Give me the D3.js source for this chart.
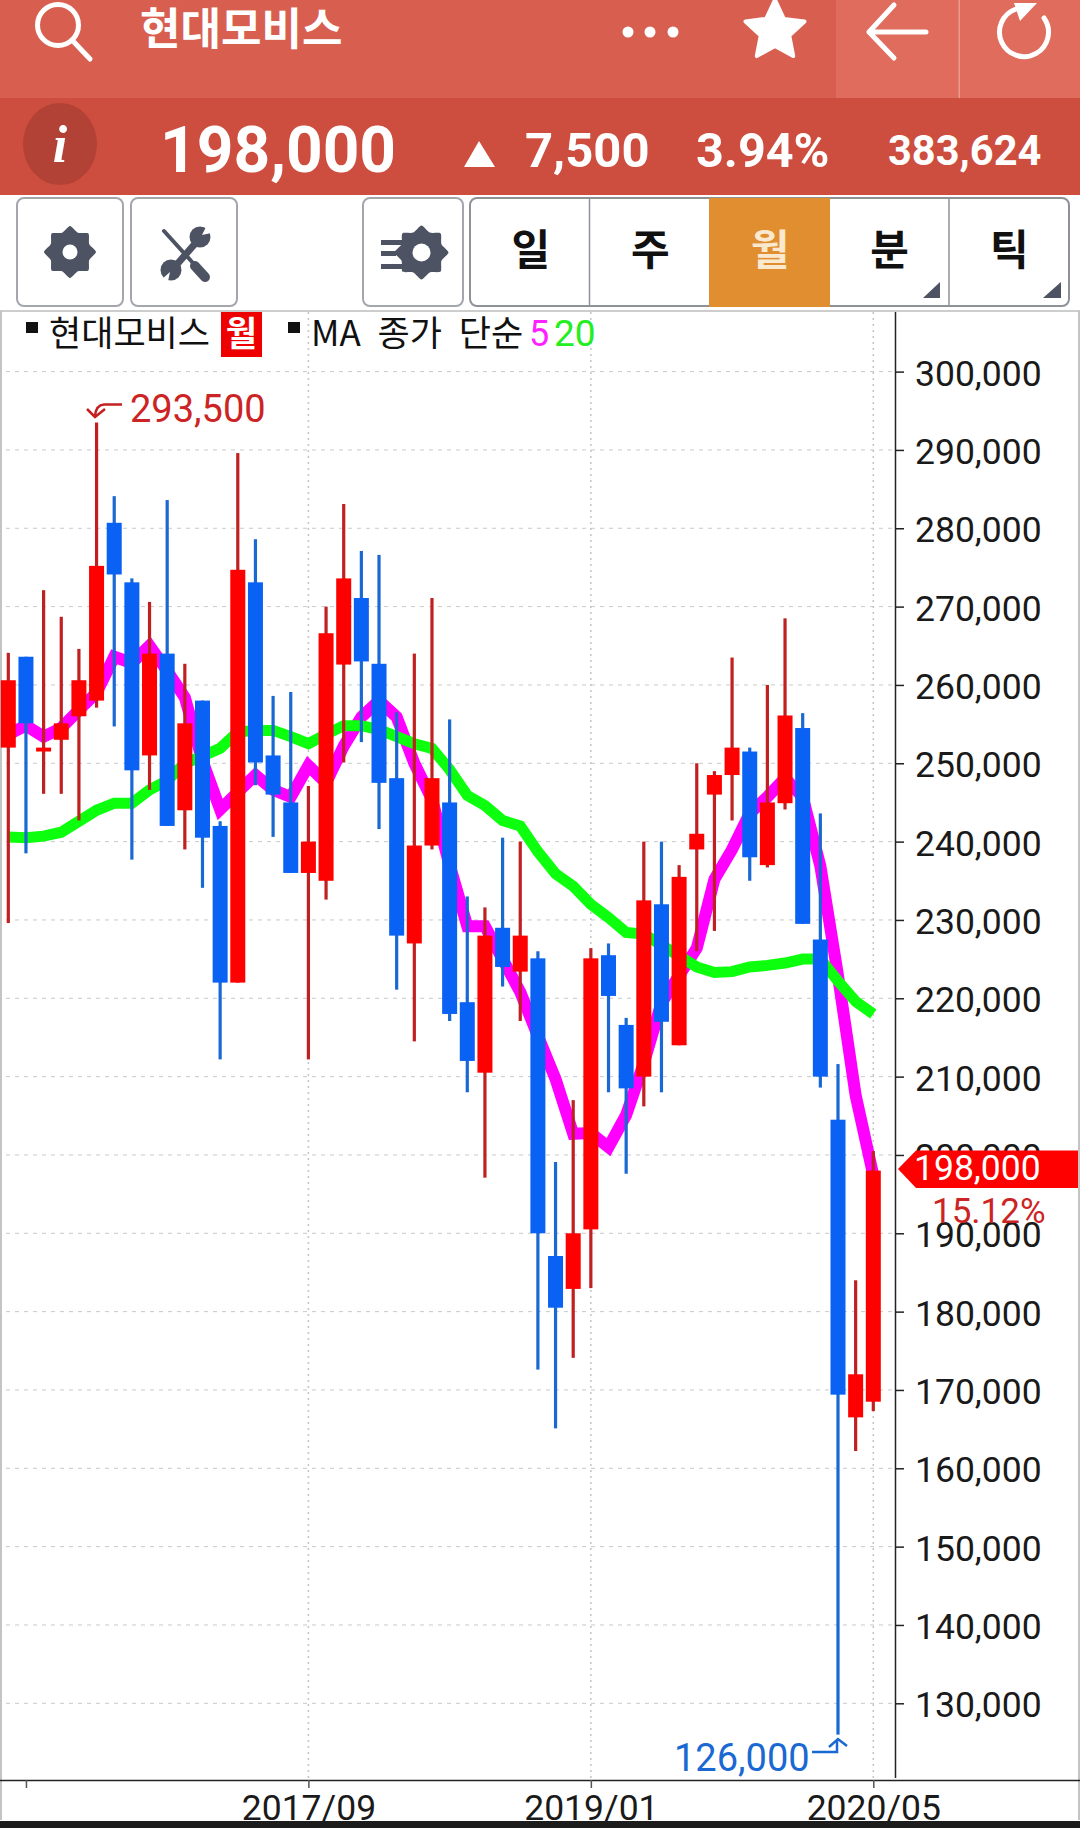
<!DOCTYPE html>
<html>
<head>
<meta charset="utf-8">
<script src="https://cdn.jsdelivr.net/npm/d3@7"></script>
<style>
  html, body { margin: 0; padding: 0; background: #fff; }
  svg { display: block; }
  text { font-family: "Noto Sans CJK KR", "Noto Sans", sans-serif; }
  .num { font-family: Roboto, "Noto Sans", sans-serif; }
</style>
</head>
<body>
<div id="chart"></div>
<script>
// monthly candles (thousand won)
const opens = [252,263.6,251.5,253,256,258,280.7,273.1,251,264,244,258,242,222,273.1,251,245,236,235,262.6,271.1,262.7,248.1,227,239.5,245,219.5,210.5,229,223.4,225.1,187.1,182.9,190.5,225.5,216.6,210,232,214,239,246,248.5,251.5,237,244.9,254.5,227.5,204.5,166.5,168.5];
const closes = [260.6,255.1,252,255.1,260.6,275.2,274.1,249.1,264,242,255.1,240.5,222,274.7,250.1,246,236,240,266.6,273.6,263,247.5,228,239.5,248.1,218,212,228,224,228,190,180.5,190,225.1,220.3,208.5,232.5,217,235.5,241,248.5,252,238,245,256.1,229.5,210,169.4,172,198];
const highs = [264.1,263.6,272.1,268.7,264.6,293.5,284.1,273.6,270.6,283.6,262.7,258,242.6,289.6,278.6,258.6,259.1,247.1,270,283.1,277.1,276.6,256.5,264,271.1,255.6,233,231.6,240.5,240,226,199.1,207,226.4,227,217.5,240,240,237,250,249,263.5,252,260,268.5,256.4,243.6,211.6,184,200.5];
const lows = [229.6,238.5,246.1,246.1,242.7,257.1,254.7,237.7,246.6,242,239,234.1,212.2,222,247.2,240.6,236,212.2,232.6,250.1,252.7,241.6,221.1,214.5,239,217.1,208,197.1,221.5,217.1,172.6,165.1,174.1,183,208,197.6,206.2,208,214,226,228.6,242.7,235,236.7,244.1,229.5,208.6,126,162.2,167.3];
const ma5 = [253.7,254.8,253.4,254.5,256.8,259,263.6,262.8,265,261.8,258.4,250.3,244.1,246.3,248.5,246.6,245.7,249.7,247.5,252.2,255.9,258,255.9,250,245.4,237,229.2,229.2,225,220.8,215.2,209.7,202.7,202.8,201,205.1,211.7,219.4,222.9,226.4,235.2,239,243.6,245.7,248.1,245.7,236.9,222.9,207.6,197.4];
const ma20 = [240.6,240.5,240.7,241.2,242.6,244,244.9,244.9,246.6,247.8,250,250.9,251.9,254,254.2,254.2,253.4,252.5,253.7,254.8,254.8,254.3,253.4,252.5,251.9,249.2,245.9,244.6,242.7,242,238.7,235.9,234.3,232,230.3,228.4,228.2,226.8,225.4,224,223.3,223.4,224,224.2,224.5,225,225,222.2,219.6,218];
const yTicks = [300,290,280,270,260,250,240,230,220,210,200,190,180,170,160,150,140,130];
const xTickIdx = [1,17,33,49];
const xTickLabels = ['','2017/09','2019/01','2020/05'];
const tabs = ['일','주','월','분','틱'];

const width = 1080;
const height = 1828;
const axisX = 895;
const bottomY = 1780;

const svg = d3.select('#chart').append('svg')
  .attr('width', width)
  .attr('height', height);

const x = d3.scaleLinear().domain([0, 49]).range([8.3, 873.3]);
const y = d3.scaleLinear().domain([130, 300]).range([1703.3, 371.6]);

// ---- header
const header = svg.append('g');
header.append('rect').attr('width', width).attr('height', 98).attr('fill', '#d85f50');
header.append('rect').attr('x', 836).attr('width', 244).attr('height', 98).attr('fill', '#df6c5d');
header.append('rect').attr('x', 958.5).attr('width', 1.5).attr('height', 98).attr('fill', '#eb9a8f');
header.append('rect').attr('y', 98).attr('width', width).attr('height', 97).attr('fill', '#cd4d3e');

// search icon
header.append('circle').attr('cx', 58).attr('cy', 25).attr('r', 20.5)
  .attr('fill', 'none').attr('stroke', '#fff').attr('stroke-width', 5);
header.append('line').attr('x1', 72).attr('y1', 40).attr('x2', 90).attr('y2', 59)
  .attr('stroke', '#fff').attr('stroke-width', 5).attr('stroke-linecap', 'round');
header.append('text').text('현대모비스')
  .attr('x', 140).attr('y', 45).attr('fill', '#fff')
  .attr('font-size', 44).attr('font-weight', 700);

// three dots
[628, 650, 673].forEach((cx) => {
  header.append('circle').attr('cx', cx).attr('cy', 32).attr('r', 5.5).attr('fill', '#fff');
});
// star
const starPts = d3.range(10).map((i) => {
  const r = i % 2 === 0 ? 31 : 15;
  const a = -Math.PI / 2 + i * Math.PI / 5;
  return [775 + r * Math.cos(a), 31 + r * Math.sin(a)];
});
header.append('path').attr('d', d3.line().curve(d3.curveLinearClosed)(starPts))
  .attr('fill', '#fff').attr('stroke', '#fff').attr('stroke-width', 4).attr('stroke-linejoin', 'round');
// back arrow
header.append('path').attr('d', 'M894 5L869 32L894 58M869 32H926')
  .attr('fill', 'none').attr('stroke', '#fff').attr('stroke-width', 5).attr('stroke-linecap', 'round').attr('stroke-linejoin', 'round');
// refresh
header.append('path').attr('d', 'M1044 18A24.5 24.5 0 1 1 1016 9')
  .attr('fill', 'none').attr('stroke', '#fff').attr('stroke-width', 5).attr('stroke-linecap', 'round');
header.append('path').attr('d', 'M1014 3H1037L1020 21Z').attr('fill', '#fff');

// price bar
header.append('ellipse').attr('cx', 60).attr('cy', 144).attr('rx', 37).attr('ry', 41).attr('fill', '#b34236');
header.append('text').text('i').attr('x', 60).attr('y', 162).attr('text-anchor', 'middle')
  .attr('fill', '#fff').attr('font-size', 52).attr('font-weight', 700).attr('font-style', 'italic')
  .style('font-family', '"Liberation Serif", serif');
const priceTexts = [
  { t: '198,000', x: 160, y: 172, s: 64 },
  { t: '7,500', x: 525, y: 167, s: 49 },
  { t: '3.94%', x: 696, y: 167, s: 48.5 },
  { t: '383,624', x: 888, y: 165, s: 41.6 }
];
priceTexts.forEach((d) => {
  header.append('text').text(d.t).attr('class', 'num').attr('x', d.x).attr('y', d.y)
    .attr('fill', '#fff').attr('font-size', d.s).attr('font-weight', 700);
});
header.append('path').attr('d', 'M479 141L495 167H464Z').attr('fill', '#fff');

// ---- toolbar
const bar = svg.append('g');
function button(x0, w) {
  bar.append('rect').attr('x', x0).attr('y', 198).attr('width', w).attr('height', 108)
    .attr('rx', 7).attr('fill', '#fff').attr('stroke', '#a3a7ad').attr('stroke-width', 2);
}
button(17, 106);
button(131, 106);
button(363, 100);

function gear(cx, cy, r, hole) {
  const pts = d3.range(16).map((i) => {
    const a = i * Math.PI / 8;
    const rr = i % 2 === 0 ? r : r * 0.8;
    return [cx + rr * Math.cos(a), cy + rr * Math.sin(a)];
  });
  bar.append('path').attr('d', d3.line().curve(d3.curveCardinalClosed.tension(0.3))(pts)).attr('fill', '#4d5363');
  bar.append('circle').attr('cx', cx).attr('cy', cy).attr('r', hole).attr('fill', '#fff');
}
gear(70, 252, 26, 7.5);
gear(421.5, 252.5, 27, 9);
[[240, 21], [251, 15], [264, 21]].forEach((d) => {
  bar.append('rect').attr('x', 381).attr('y', d[0]).attr('width', d[1]).attr('height', 5).attr('fill', '#4d5363');
});
// tools icon
bar.append('path').attr('d', 'M164 231L193 263').attr('stroke', '#4d5363').attr('stroke-width', 4).attr('stroke-linecap', 'round');
bar.append('path').attr('d', 'M195 266L205 277').attr('stroke', '#4d5363').attr('stroke-width', 10).attr('stroke-linecap', 'round');
bar.append('path').attr('d', 'M172 270L200 238').attr('stroke', '#4d5363').attr('stroke-width', 7);
bar.append('circle').attr('cx', 200).attr('cy', 237).attr('r', 10.5).attr('fill', '#4d5363');
bar.append('circle').attr('cx', 171).attr('cy', 270).attr('r', 10.5).attr('fill', '#4d5363');
bar.append('path').attr('d', 'M202 235L208 223L216 232Z').attr('fill', '#fff');
bar.append('path').attr('d', 'M170 272L161 280L167 286Z').attr('fill', '#fff');

// period tabs
bar.append('rect').attr('x', 470).attr('y', 198).attr('width', 599).attr('height', 108)
  .attr('rx', 7).attr('fill', '#fff').attr('stroke', '#8e9298').attr('stroke-width', 2);
bar.append('rect').attr('x', 709).attr('y', 198).attr('width', 121).attr('height', 109).attr('fill', '#e08e30');
[589.5, 949].forEach((dx) => {
  bar.append('line').attr('x1', dx).attr('x2', dx).attr('y1', 198).attr('y2', 306).attr('stroke', '#8e9298').attr('stroke-width', 1.5);
});
const tabX = d3.scaleBand().domain(tabs).range([471, 1069]);
bar.selectAll('.tab').data(tabs).join('text')
  .attr('class', 'tab')
  .attr('x', (d) => tabX(d) + tabX.bandwidth() / 2)
  .attr('y', 265)
  .attr('text-anchor', 'middle')
  .attr('font-size', 42)
  .attr('font-weight', 700)
  .attr('fill', (d) => (d === '월' ? '#fbe9cf' : '#111'))
  .text((d) => d);
['M940 282V298H923Z', 'M1061 282V298H1043Z'].forEach((p) => {
  bar.append('path').attr('d', p).attr('fill', '#4d5363');
});

// ---- chart frame
const frame = svg.append('g');
frame.append('line').attr('x1', 0).attr('x2', width).attr('y1', 311).attr('y2', 311).attr('stroke', '#bdbdbd').attr('stroke-width', 1.5);
frame.append('line').attr('x1', 1).attr('x2', 1).attr('y1', 311).attr('y2', 1820).attr('stroke', '#c4c4c4').attr('stroke-width', 2);
frame.append('line').attr('x1', 1079).attr('x2', 1079).attr('y1', 311).attr('y2', 1820).attr('stroke', '#c4c4c4').attr('stroke-width', 2);

// gridlines
svg.append('g').selectAll('line').data(yTicks).join('line')
  .attr('x1', 6).attr('x2', axisX)
  .attr('y1', (d) => y(d)).attr('y2', (d) => y(d))
  .attr('stroke', '#c9c9c9').attr('stroke-width', 1).attr('stroke-dasharray', '4 5');
svg.append('g').selectAll('line').data(xTickIdx.slice(1)).join('line')
  .attr('x1', (d) => x(d)).attr('x2', (d) => x(d))
  .attr('y1', 312).attr('y2', bottomY)
  .attr('stroke', '#c4c4c4').attr('stroke-width', 1.5).attr('stroke-dasharray', '2 4');

// moving averages under the candles
const line = d3.line().x((d, i) => x(i)).y((d) => y(d));
svg.append('path').datum(ma5).attr('d', line)
  .attr('fill', 'none').attr('stroke', '#ff00ff').attr('stroke-width', 12);
svg.append('path').datum(ma20).attr('d', line)
  .attr('fill', 'none').attr('stroke', '#0cff0c').attr('stroke-width', 11);

// candles
const candles = svg.append('g').selectAll('g').data(opens).join('g');
const isUp = (i) => closes[i] >= opens[i];
candles.append('rect')
  .attr('x', (d, i) => x(i) - 1.6)
  .attr('width', 3.2)
  .attr('y', (d, i) => y(highs[i]))
  .attr('height', (d, i) => y(lows[i]) - y(highs[i]))
  .attr('fill', (d, i) => (isUp(i) ? '#c02020' : '#1a68d2'));
candles.append('rect')
  .attr('x', (d, i) => x(i) - 7.5)
  .attr('width', 15)
  .attr('y', (d, i) => y(Math.max(opens[i], closes[i])))
  .attr('height', (d, i) => Math.max(2.5, Math.abs(y(opens[i]) - y(closes[i]))))
  .attr('fill', (d, i) => (isUp(i) ? '#ff0000' : '#0a62f5'));

// ---- axes
const yAxis = d3.axisRight(y)
  .tickValues(yTicks)
  .tickSize(9)
  .tickPadding(11)
  .tickFormat((d) => d3.format(',')(d * 1000));
const yG = svg.append('g').attr('transform', `translate(${axisX},0)`).call(yAxis);
yG.select('.domain').attr('d', `M0.5,312V${bottomY - 2}`).attr('stroke', '#222').attr('stroke-width', 1.5);
yG.selectAll('.tick line').attr('stroke', '#222').attr('stroke-width', 1.5);
yG.selectAll('.tick text').attr('class', 'num').attr('font-size', 35.5).attr('fill', '#1a1a1a').attr('dy', '0.38em');

const xAxis = d3.axisBottom(x)
  .tickValues(xTickIdx)
  .tickSize(8)
  .tickPadding(7)
  .tickFormat((d, i) => xTickLabels[i]);
const xG = svg.append('g').attr('transform', `translate(0,${bottomY})`).call(xAxis);
xG.select('.domain').attr('d', `M0,0.5H${width}`).attr('stroke', '#222').attr('stroke-width', 1.5);
xG.selectAll('.tick line').attr('stroke', '#555').attr('stroke-width', 1.5);
xG.selectAll('.tick text').attr('class', 'num').attr('font-size', 35.5).attr('fill', '#1a1a1a');

svg.append('rect').attr('y', 1821).attr('width', width).attr('height', 7).attr('fill', '#1c1c1c');

// ---- current price tag
svg.append('rect').attr('x', 925).attr('y', 1193).attr('width', 120).attr('height', 29).attr('fill', '#fff');
svg.append('path').attr('d', 'M898 1169L916 1150.5H1078V1188H916Z').attr('fill', '#ff0000');
svg.append('text').text('198,000').attr('class', 'num').attr('x', 914).attr('y', 1180)
  .attr('fill', '#fff').attr('font-size', 35.5);
svg.append('text').text('15.12%').attr('class', 'num').attr('x', 932).attr('y', 1223)
  .attr('fill', '#cc2424').attr('font-size', 35);

// ---- high / low notes
svg.append('path').attr('d', 'M122 404.5H104Q96 405 95 416M87 409L95 417L105 409')
  .attr('fill', 'none').attr('stroke', '#c42020').attr('stroke-width', 2.5);
svg.append('text').text('293,500').attr('class', 'num').attr('x', 130).attr('y', 422)
  .attr('fill', '#cc2424').attr('font-size', 38);
svg.append('path').attr('d', 'M812 1752H837V1740M829 1747L838 1739L847 1746')
  .attr('fill', 'none').attr('stroke', '#1a68d2').attr('stroke-width', 2.5);
svg.append('text').text('126,000').attr('class', 'num').attr('x', 674).attr('y', 1771)
  .attr('fill', '#1a68d2').attr('font-size', 38);

// ---- legend
const legend = svg.append('g');
legend.append('rect').attr('x', 26).attr('y', 322).attr('width', 12).attr('height', 11).attr('fill', '#111');
legend.append('text').text('현대모비스').attr('x', 49).attr('y', 346).attr('font-size', 35).attr('fill', '#111');
legend.append('rect').attr('x', 221).attr('y', 312).attr('width', 41).attr('height', 45).attr('fill', '#ee0000');
legend.append('text').text('월').attr('x', 241.5).attr('y', 346).attr('text-anchor', 'middle')
  .attr('font-size', 34).attr('font-weight', 700).attr('fill', '#fff');
legend.append('rect').attr('x', 288).attr('y', 322).attr('width', 12).attr('height', 11).attr('fill', '#111');
legend.append('text').text('MA 종가 단순').attr('x', 311).attr('y', 346).attr('font-size', 35)
  .attr('word-spacing', 9).attr('fill', '#111');
legend.append('text').text('5').attr('class', 'num').attr('x', 529).attr('y', 346).attr('font-size', 36).attr('fill', '#ff22ff');
legend.append('text').text('20').attr('class', 'num').attr('x', 554).attr('y', 346).attr('font-size', 37).attr('fill', '#22ee22');
</script>
</body>
</html>
